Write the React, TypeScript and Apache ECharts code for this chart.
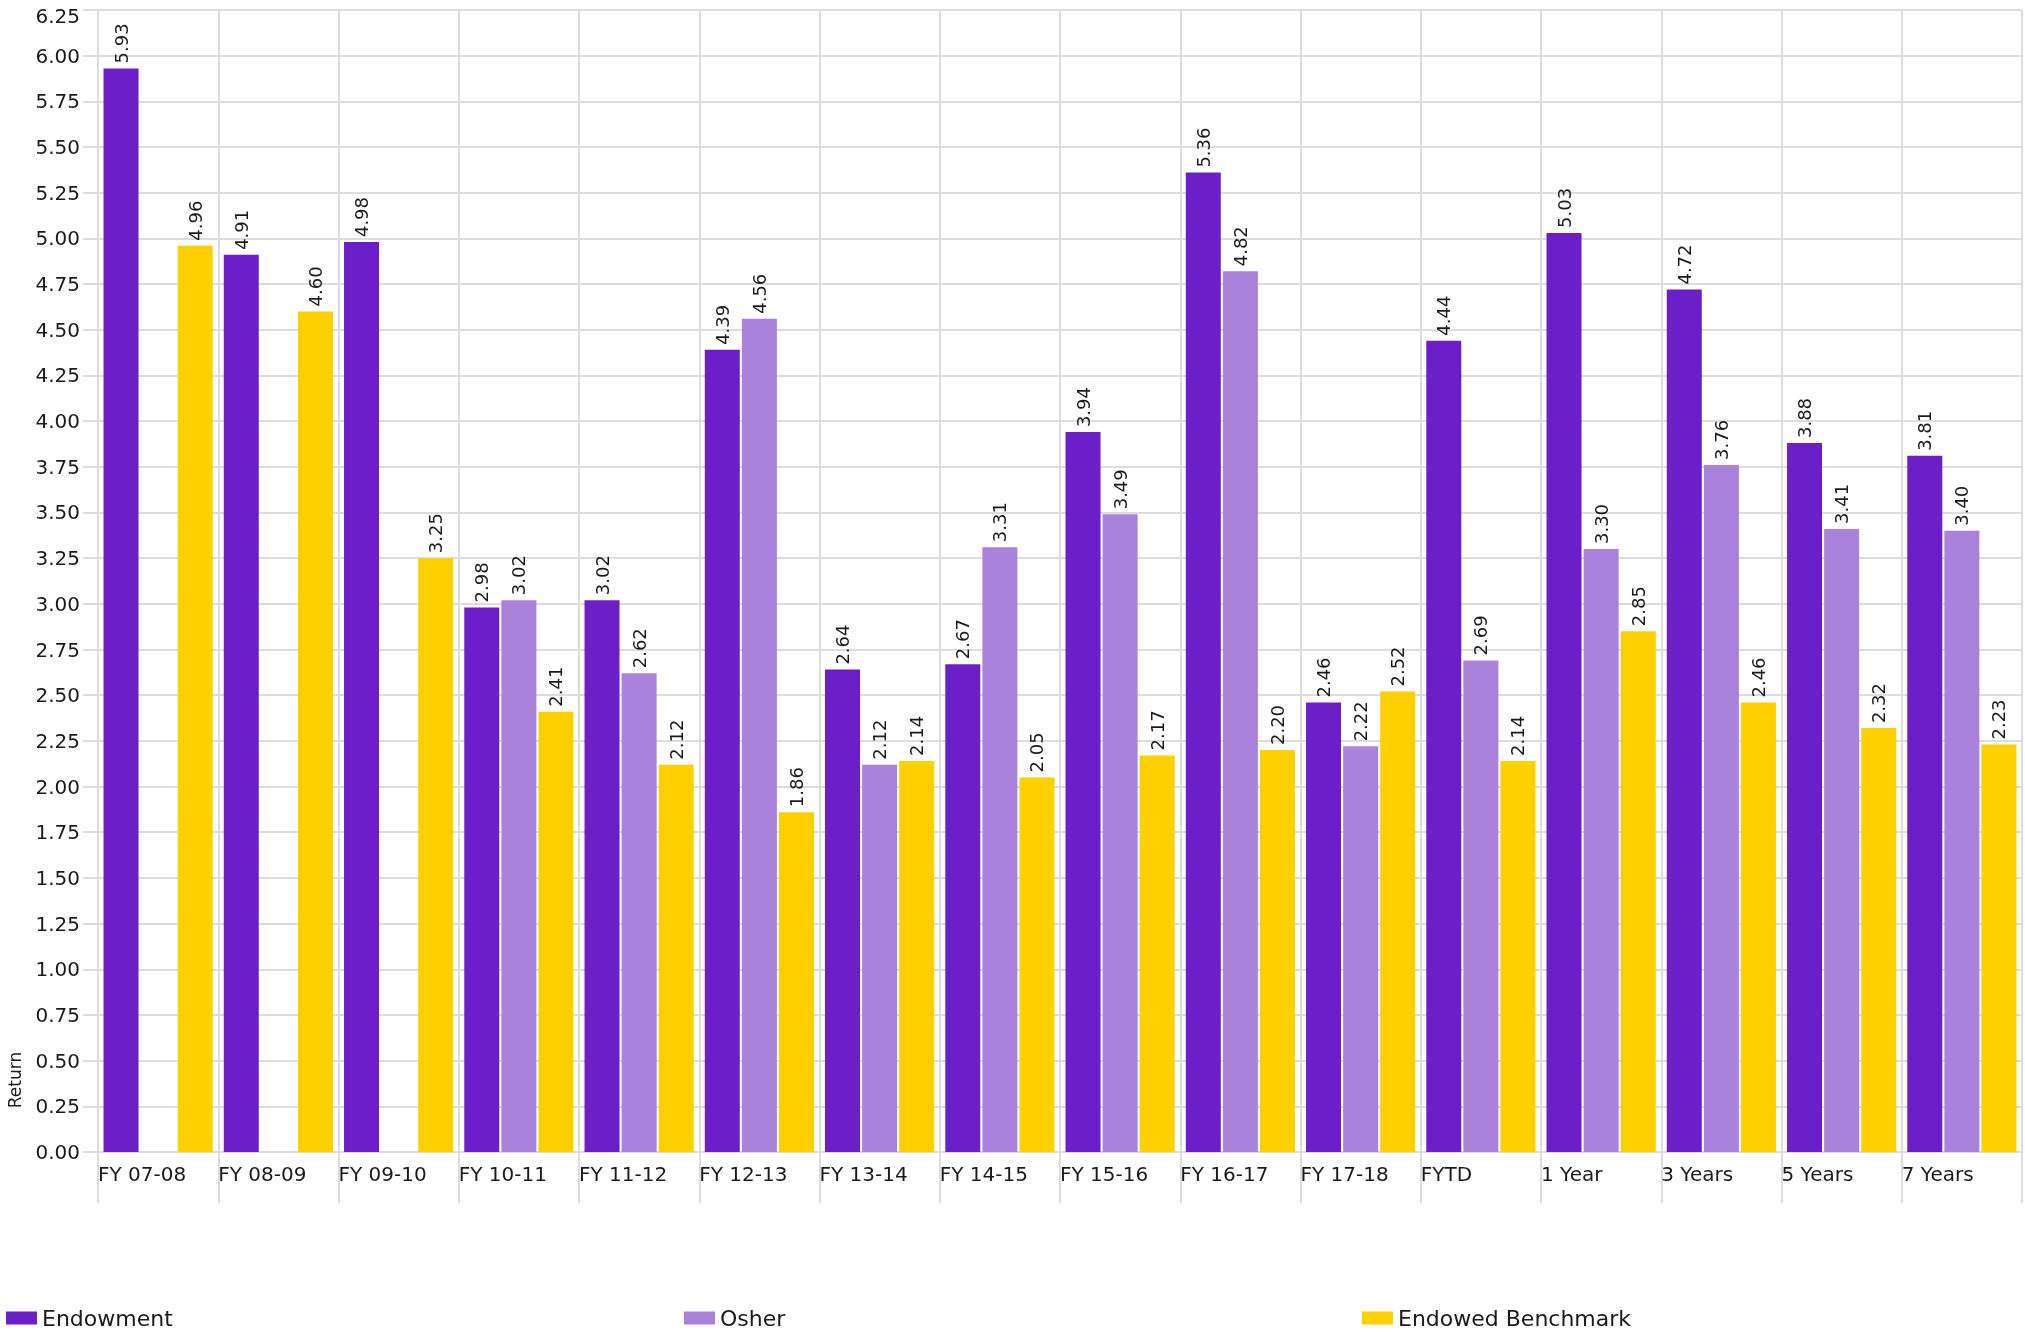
import React, { useEffect, useRef } from "react";
import * as echarts from "echarts";

const categories = [
  "FY 07-08", "FY 08-09", "FY 09-10", "FY 10-11", "FY 11-12", "FY 12-13",
  "FY 13-14", "FY 14-15", "FY 15-16", "FY 16-17", "FY 17-18", "FYTD",
  "1 Year", "3 Years", "5 Years", "7 Years",
];
const endowment = [5.93, 4.91, 4.98, 2.98, 3.02, 4.39, 2.64, 2.67, 3.94, 5.36, 2.46, 4.44, 5.03, 4.72, 3.88, 3.81];
const osher = [null, null, null, 3.02, 2.62, 4.56, 2.12, 3.31, 3.49, 4.82, 2.22, 2.69, 3.30, 3.76, 3.41, 3.40];
const benchmark = [4.96, 4.60, 3.25, 2.41, 2.12, 1.86, 2.14, 2.05, 2.17, 2.20, 2.52, 2.14, 2.85, 2.46, 2.32, 2.23];
const seriesNames = ["Endowment", "Osher", "Endowed Benchmark"];
const colors = ["#6c1fc8", "#aa82db", "#ffd000"];
const yMin = 0;
const yMax = 6.25;
const yInterval = 0.25;

const FONT = "DejaVu Sans, Verdana, sans-serif";
const TEXT = "#1a1a1a";
const GRID = "#dddddd";

export default function App() {
  const ref = useRef<HTMLDivElement>(null);
  useEffect(() => {
    if (!ref.current) return;
    const chart = echarts.init(ref.current, null, { renderer: "svg" });
    const dataSets = [endowment, osher, benchmark];
    const labelCfg = {
      show: true,
      position: "top",
      rotate: 90,
      align: "left",
      verticalAlign: "middle",
      distance: 5,
      fontSize: 18,
      fontFamily: FONT,
      color: TEXT,
      formatter: (p: any) => (p.value == null ? "" : Number(p.value).toFixed(2)),
    };
    const legendBase = {
      top: 1307,
      padding: 0,
      icon: "rect",
      itemWidth: 31,
      itemHeight: 13,
      itemGap: 6,
      textStyle: { fontSize: 22, fontFamily: FONT, color: TEXT },
    };
    chart.setOption({
      animation: false,
      textStyle: { fontFamily: FONT },
      color: colors,
      grid: { left: 98, right: 2, top: 10, bottom: 180, containLabel: false },
      legend: [
        { ...legendBase, left: 6, data: [seriesNames[0]] },
        { ...legendBase, left: 684, data: [seriesNames[1]] },
        { ...legendBase, left: 1362, data: [seriesNames[2]] },
      ],
      graphic: [
        {
          type: "text",
          x: 15,
          y: 1080,
          rotation: Math.PI / 2,
          style: {
            text: "Return",
            fontSize: 17,
            fontFamily: FONT,
            fill: TEXT,
            textAlign: "center",
            textVerticalAlign: "middle",
          },
        },
      ],
      xAxis: [
        {
          type: "category",
          data: categories,
          position: "bottom",
          boundaryGap: true,
          axisLine: { show: true, lineStyle: { color: GRID, width: 2 } },
          axisTick: { show: true, length: 51, interval: 0, lineStyle: { color: GRID, width: 2 } },
          axisLabel: { show: false },
          splitLine: { show: true, interval: 0, lineStyle: { color: GRID, width: 2 } },
        },
        {
          type: "category",
          data: [...categories, ""],
          position: "bottom",
          boundaryGap: false,
          axisLine: { show: false },
          axisTick: { show: false },
          splitLine: { show: false },
          axisLabel: {
            show: true,
            interval: 0,
            align: "left",
            margin: 12,
            fontSize: 20,
            fontFamily: FONT,
            color: TEXT,
          },
        },
      ],
      yAxis: {
        type: "value",
        min: yMin,
        max: yMax,
        interval: yInterval,
        axisLine: { show: true, lineStyle: { color: GRID, width: 2 } },
        axisTick: { show: true, length: 15, lineStyle: { color: GRID, width: 2 } },
        axisLabel: {
          margin: 18,
          fontSize: 20,
          lineHeight: 12,
          fontFamily: FONT,
          color: TEXT,
          verticalAlignMaxLabel: "top",
          formatter: (v: number) => v.toFixed(2),
        },
        splitLine: { show: true, lineStyle: { color: GRID, width: 2 } },
      },
      series: seriesNames.map((name, i) => ({
        name,
        type: "bar",
        xAxisIndex: 0,
        data: dataSets[i],
        barWidth: 35,
        barGap: "6%",
        itemStyle: { color: colors[i] },
        label: labelCfg,
      })),
    });
    return () => chart.dispose();
  }, []);
  return (
    <div
      ref={ref}
      style={{ position: "fixed", left: 0, top: 0, width: 2025, height: 1332 }}
    />
  );
}
